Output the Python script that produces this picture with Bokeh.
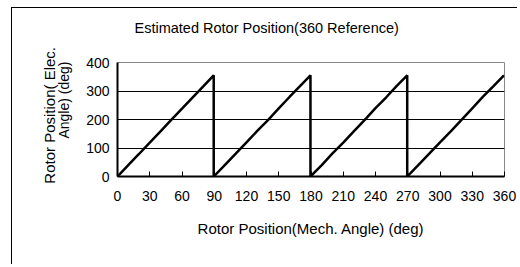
from bokeh.plotting import figure
from bokeh.models import FixedTicker, Range1d, LinearAxis
from bokeh.embed import file_html
from bokeh.resources import INLINE

# Data: mechanical angle (deg) vs estimated electrical angle (deg)
mech_angle = [0, 10, 20, 30, 40, 50, 60, 70, 80, 89.5,
              89.5, 100, 110, 120, 130, 140, 150, 160, 170, 179.5,
              179.5, 190, 200, 210, 220, 230, 240, 250, 260, 269.5,
              269.5, 280, 290, 300, 310, 320, 330, 340, 350, 359.5]
elec_angle = [0, 40, 79, 119, 158, 199, 238, 278, 317, 355,
              0, 41, 80, 120, 160, 198, 239, 279, 318, 355,
              0, 40, 81, 119, 159, 199, 240, 278, 319, 355,
              0, 41, 80, 120, 158, 199, 239, 280, 318, 355]
x_ticks = [0, 30, 60, 90, 120, 150, 180, 210, 240, 270, 300, 330, 360]
y_ticks = [0, 100, 200, 300, 400]

NB = "\u00a0"
title_text = "Estimated Rotor Position(360 Reference)"
x_title = "Rotor Position(Mech. Angle) (deg)"
y_title_1 = "Rotor Position( Elec."
y_title_2 = "Angle) (deg)"

FONT = "Liberation Sans"
FS = "14px"
W, H = 506, 257

p = figure(width=W, height=H, output_backend="svg", toolbar_location=None,
           x_range=Range1d(0, 360), y_range=Range1d(0, 400),
           min_border_left=105, min_border_right=14, min_border_top=54,
           min_border_bottom=89)
p.margin = (7, 0, 0, 11)
p.styles = {"border-left": "1px solid black", "border-top": "1px solid black"}
p.background_fill_color = "white"
p.border_fill_color = "white"
p.outline_line_color = "#888888"
p.outline_line_width = 1

# grid
p.xgrid.grid_line_color = None
p.ygrid.ticker = FixedTicker(ticks=[100, 200, 300])
p.ygrid.grid_line_color = "black"
p.ygrid.grid_line_width = 1

# x axis
xa = p.below[0]
xa.ticker = FixedTicker(ticks=x_ticks)
xa.axis_line_color = "black"
xa.axis_line_width = 2
xa.major_tick_in = 5
xa.major_tick_out = 0
xa.major_tick_line_color = "black"
xa.minor_tick_line_color = None
xa.major_label_text_font = FONT
xa.major_label_text_font_size = FS
xa.major_label_text_color = "black"
xa.major_label_standoff = 14
xa.axis_label = x_title
xa.axis_label_text_font = FONT
xa.axis_label_text_font_size = "15px"
xa.axis_label_text_font_style = "normal"
xa.axis_label_text_color = "black"
xa.axis_label_standoff = 16

# y axis (inner title line)
ya = p.left[0]
ya.ticker = FixedTicker(ticks=y_ticks)
ya.axis_line_color = "black"
ya.axis_line_width = 2
ya.major_tick_in = 0
ya.major_tick_out = 0
ya.minor_tick_line_color = None
ya.major_label_text_font = FONT
ya.major_label_text_font_size = FS
ya.major_label_text_color = "black"
ya.major_label_standoff = 8
ya.axis_label = NB * 10 + y_title_2
ya.axis_label_text_font = FONT
ya.axis_label_text_font_size = FS
ya.axis_label_text_font_style = "normal"
ya.axis_label_text_color = "black"
ya.axis_label_standoff = 11

# outer title line on an extra, tick-less axis
outer = LinearAxis(ticker=FixedTicker(ticks=[]), axis_line_color=None,
                   major_tick_in=0, major_tick_out=0, minor_tick_line_color=None,
                   axis_label=NB * 2 + y_title_1, axis_label_text_font=FONT,
                   axis_label_text_font_size="15px", axis_label_text_font_style="normal",
                   axis_label_text_color="black", axis_label_standoff=-4)
p.add_layout(outer, "left")

# chart title, drawn as the label of a bare axis above the plot area
top = LinearAxis(ticker=FixedTicker(ticks=[]), axis_line_color=None,
                 major_tick_in=0, major_tick_out=0, minor_tick_line_color=None,
                 axis_label=title_text + NB * 22, axis_label_text_font=FONT,
                 axis_label_text_font_size="14.5px", axis_label_text_font_style="normal",
                 axis_label_text_color="black", axis_label_standoff=27)
p.add_layout(top, "above")

p.line(mech_angle, elec_angle, line_color="black", line_width=2.5)

open("out.html", "w").write(file_html(p, INLINE))
